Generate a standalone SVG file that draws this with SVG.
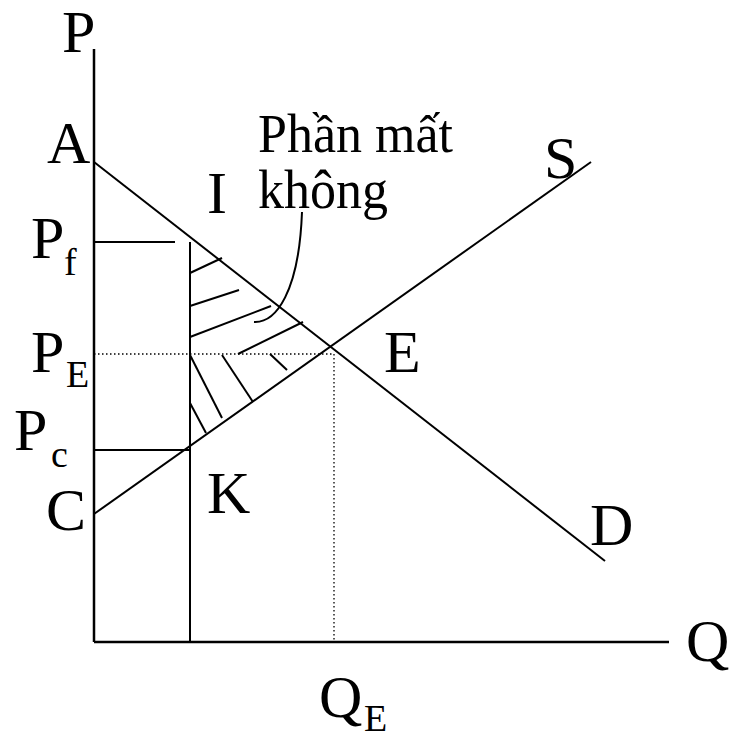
<svg xmlns="http://www.w3.org/2000/svg" width="733" height="741" viewBox="0 0 733 741">
<style>
.ln{stroke:#000;stroke-width:2;fill:none;stroke-linecap:butt}
.ax{stroke:#000;stroke-width:2.5;fill:none}
.dt{stroke:#000;stroke-width:1.3;stroke-dasharray:1.5 2.5;fill:none}
.t{font-family:"Liberation Serif","Times New Roman",serif;font-size:60px;fill:#000}
.s{font-size:38px}
.n{font-family:"Liberation Serif","Times New Roman",serif;font-size:54px;fill:#000}
</style>
<rect width="733" height="741" fill="#fff"/>
<g id="axes">
<line class="ax" x1="94" y1="49" x2="94" y2="642"/>
<line class="ax" x1="94" y1="642" x2="669" y2="642"/>
</g>
<g id="guides">
<line class="dt" x1="94" y1="354" x2="334" y2="354"/>
<line class="dt" x1="334" y1="354" x2="334" y2="641"/>
<line class="ln" x1="94" y1="242" x2="175" y2="242"/>
<line class="ln" x1="94" y1="450" x2="190" y2="450"/>
<line class="ln" x1="190" y1="242" x2="190" y2="642"/>
</g>
<g id="curves">
<line id="demand" class="ln" x1="94" y1="162" x2="605" y2="561"/>
<line id="supply" class="ln" x1="94" y1="514" x2="591" y2="162"/>
</g>
<g id="hatch">
<line class="ln" x1="190" y1="273" x2="222" y2="258"/>
<line class="ln" x1="190" y1="306" x2="239" y2="290"/>
<line class="ln" x1="190" y1="337" x2="271" y2="306"/>
<line class="ln" x1="238" y1="354" x2="303" y2="322"/>
<line class="ln" x1="270" y1="354" x2="287" y2="370"/>
<line class="ln" x1="190" y1="355" x2="222" y2="418"/>
<line class="ln" x1="222" y1="355" x2="253" y2="402"/>
<line class="ln" x1="190" y1="403" x2="206" y2="433"/>
<path id="pointer" class="ln" d="M254,322 C276,323 299,292 302,212"/>
</g>
<g id="labels">
<text class="t" x="62" y="52">P</text>
<text class="t" x="47" y="163">A</text>
<text class="t" x="31" y="258">P<tspan class="s" x="64" y="275">f</tspan></text>
<text class="t" x="31" y="372">P<tspan class="s" x="66" y="387">E</tspan></text>
<text class="t" x="14" y="450">P<tspan class="s" x="51" y="467">c</tspan></text>
<text class="t" x="46" y="530">C</text>
<text class="t" x="207" y="513">K</text>
<text class="t" x="207" y="213">I</text>
<text class="t" x="544" y="178">S</text>
<text class="t" x="384" y="372">E</text>
<text class="t" x="590" y="545">D</text>
<text class="t" x="686" y="661">Q</text>
<text class="t" x="319" y="717">Q<tspan class="s" x="364" y="731">E</tspan></text>
<text class="n" x="258" y="152" textLength="195" lengthAdjust="spacingAndGlyphs">Phần mất</text>
<text class="n" x="258" y="208" textLength="130" lengthAdjust="spacingAndGlyphs">không</text>
</g>
</svg>
